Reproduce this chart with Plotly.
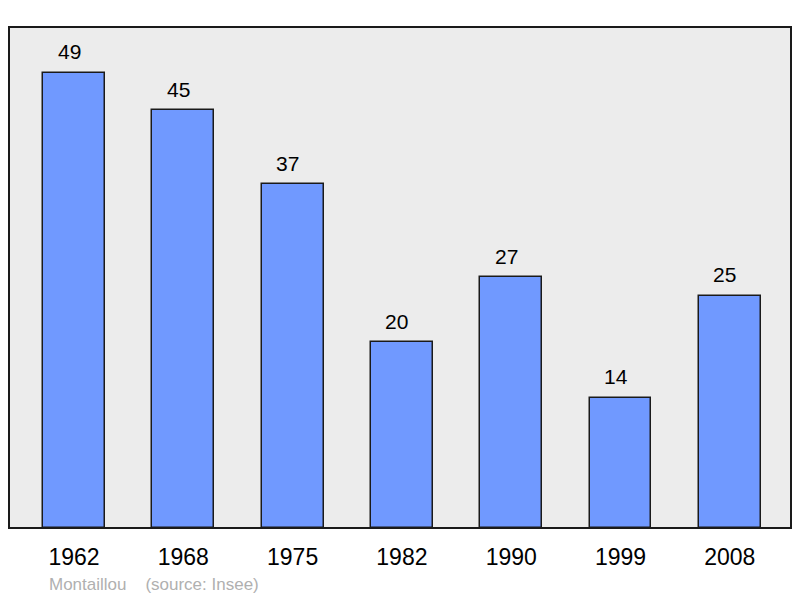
import plotly.graph_objects as go

years = ["1962", "1968", "1975", "1982", "1990", "1999", "2008"]
population = [49, 45, 37, 20, 27, 14, 25]
footer = "Montaillou    (source: Insee)"

W, H = 800, 598
L, R, T, B = 9, 791, 27, 528
pw, ph = R - L, B - T
FONT = "Liberation Sans, Arial, sans-serif"

fig = go.Figure()
fig.add_trace(go.Bar(
    x=list(range(len(years))), y=population, width=0.567,
    marker=dict(color="#7099ff", line=dict(color="#1a1a1a", width=1.5)),
    hoverinfo="skip",
))

for i, v in enumerate(population):
    fig.add_annotation(x=i, y=v, text=str(v), showarrow=False, yanchor="middle",
                       yshift=21, xshift=-5, font=dict(size=21, color="#000000", family=FONT))

fig.add_annotation(xref="paper", yref="paper", x=(47 - L) / pw, y=-(584 - B) / ph,
                   xanchor="left", yanchor="middle", text=footer, showarrow=False,
                   font=dict(size=17, color="#b0b0b0", family=FONT))

fig.add_shape(type="rect", xref="paper", yref="paper", x0=0, y0=0, x1=1, y1=1,
              line=dict(color="#1a1a1a", width=2), layer="above")

fig.update_layout(
    width=W, height=H,
    margin=dict(l=L, r=W - R, t=T, b=H - B, pad=0),
    paper_bgcolor="#ffffff", plot_bgcolor="#ececec",
    showlegend=False, bargap=0,
    font=dict(family=FONT, color="#000000"),
    xaxis=dict(range=[-0.595, 6.56], tickvals=list(range(len(years))), ticktext=years,
               showgrid=False, zeroline=False, ticks="outside", ticklen=8,
               tickcolor="rgba(0,0,0,0)", tickfont=dict(size=23, color="#000000"),
               fixedrange=True),
    yaxis=dict(range=[0, 53.95], showgrid=False, zeroline=False, showticklabels=False,
               fixedrange=True),
)

fig.write_html("out.html", config={"displayModeBar": False})
with open("out.html", "r", encoding="utf-8") as f:
    html = f.read()
html = html.replace("<head>", "<head><style>html,body{margin:0;padding:0;overflow:hidden;}</style>", 1)
with open("out.html", "w", encoding="utf-8") as f:
    f.write(html)
